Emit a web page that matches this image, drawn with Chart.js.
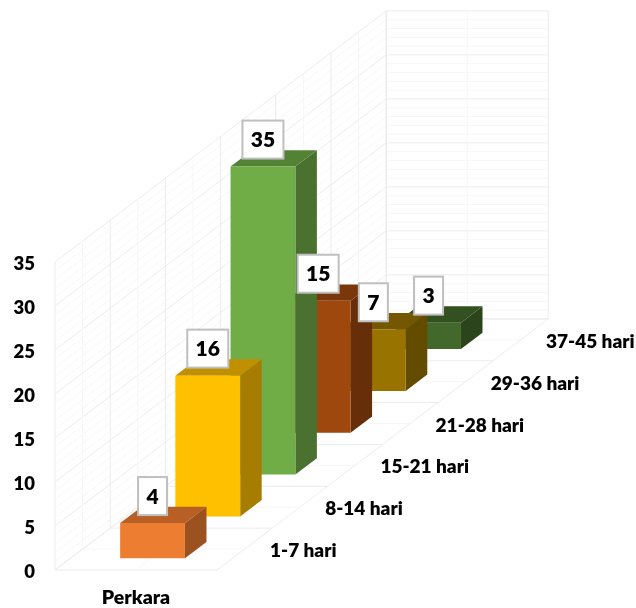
<!DOCTYPE html>
<html>
<head>
<meta charset="utf-8">
<style>
  html, body { margin: 0; background: #fff; }
  canvas { display: block; }
</style>
<script src="https://cdn.jsdelivr.net/npm/chart.js@4"></script>
</head>
<body>
<canvas id="chart" width="636" height="608"></canvas>
<script>
// Data
const categories = ["Perkara"];
const seriesNames = ["1-7 hari", "8-14 hari", "15-21 hari", "21-28 hari", "29-36 hari", "37-45 hari"];
const seriesValues = [4, 16, 35, 15, 7, 3];
const frontColors = ["#ED7D31", "#FFC000", "#70AD47", "#9E480E", "#997300", "#43682B"];
const sideColors = ["#9B5220", "#A67D00", "#4A7130", "#672F09", "#634B00", "#2C441C"];
const topColors = ["#B85F26", "#C09000", "#548235", "#7A370B", "#745700", "#325020"];

// Oblique projection: one series row moves this far right and up
const stepX = 55.2;
const stepY = 41.85;
const barGapX = 0.3;   // space in front of a bar, in rows
const barGapY = 0.28;
const barDepth = 0.39; // bar depth, in rows
const fontName = "Lato, Carlito, sans-serif";

function line(ctx, x1, y1, x2, y2, color) {
    ctx.strokeStyle = color;
    ctx.beginPath();
    ctx.moveTo(x1, y1);
    ctx.lineTo(x2, y2);
    ctx.stroke();
}

function polygon(ctx, points, color) {
    ctx.fillStyle = color;
    ctx.beginPath();
    points.forEach((p, i) => (i ? ctx.lineTo(p[0], p[1]) : ctx.moveTo(p[0], p[1])));
    ctx.closePath();
    ctx.fill();
}

const major = "#ececec";
const minor = "#f7f7f7";

// Walls and floor of the box
function drawWalls(chart) {
    const ctx = chart.ctx;
    const area = chart.chartArea;
    const y = chart.scales.y;
    const rows = seriesNames.length;
    const backX = rows * stepX;
    const backY = rows * stepY;
    ctx.save();
    ctx.lineWidth = 1;

    // value lines along left wall and back wall
    for (let v = y.min; v <= y.max; v++) {
        const py = y.getPixelForValue(v);
        const color = v % 5 === 0 ? major : minor;
        line(ctx, area.left, py, area.left + backX, py - backY, color);
        line(ctx, area.left + backX, py - backY, area.right + backX, py - backY, color);
    }

    // row lines on left wall and floor
    for (let r = 0; r <= rows * 2; r++) {
        const dx = (r / 2) * stepX;
        const dy = (r / 2) * stepY;
        const color = r % 2 === 0 ? major : minor;
        line(ctx, area.left + dx, area.bottom - dy, area.left + dx, area.top - dy, color);
        line(ctx, area.left + dx, area.bottom - dy, area.right + dx, area.bottom - dy, color);
    }

    // lines running front to back on the floor, uprights on the back wall
    [0, 0.5, 1].forEach((f) => {
        const px = area.left + f * (area.right - area.left);
        const color = f === 0.5 ? minor : major;
        line(ctx, px, area.bottom, px + backX, area.bottom - backY, color);
        line(ctx, px + backX, area.bottom - backY, px + backX, area.top - backY, color);
    });
    ctx.restore();
}

const box3d = {
    id: "box3d",
    beforeDatasetsDraw(chart) {
        drawWalls(chart);
    },
    // side and top faces go first, the library then draws the front face shifted back
    beforeDatasetDraw(chart, args) {
        const ctx = chart.ctx;
        const bar = args.meta.data[0];
        const i = args.index;
        const sx = (i + barGapX) * stepX;
        const sy = (i + barGapY) * stepY;
        const dx = barDepth * stepX;
        const dy = barDepth * stepY;
        const left = bar.x - bar.width / 2;
        const right = bar.x + bar.width / 2;
        ctx.save();
        ctx.translate(sx, -sy);
        polygon(ctx, [[right, bar.y], [right + dx, bar.y - dy], [right + dx, bar.base - dy], [right, bar.base]], sideColors[i]);
        polygon(ctx, [[left, bar.y], [left + dx, bar.y - dy], [right + dx, bar.y - dy], [right, bar.y]], topColors[i]);
    },
    afterDatasetDraw(chart) {
        chart.ctx.restore();
    },
    afterDatasetsDraw(chart) {
        const ctx = chart.ctx;
        const area = chart.chartArea;
        ctx.save();
        ctx.textBaseline = "middle";

        // row names along the right edge of the floor
        ctx.font = "800 19px " + fontName;
        ctx.fillStyle = "#000";
        ctx.textAlign = "left";
        seriesNames.forEach((name, i) => {
            ctx.fillText(name, area.right + 53 + i * stepX, area.bottom - 19 - i * stepY);
        });

        // value boxes, back rows first
        ctx.font = "800 21px " + fontName;
        ctx.textAlign = "center";
        for (let i = seriesValues.length - 1; i >= 0; i--) {
            const bar = chart.getDatasetMeta(i).data[0];
            const text = String(seriesValues[i]);
            const w = text.length > 1 ? 41 : 29;
            const h = 38;
            const cx = bar.x + (i + barGapX) * stepX;
            const bottom = bar.y - (i + barGapY) * stepY - 8;
            ctx.fillStyle = "#fff";
            ctx.strokeStyle = "#bfbfbf";
            ctx.lineWidth = 2;
            ctx.fillRect(cx - w / 2, bottom - h, w, h);
            ctx.strokeRect(cx - w / 2, bottom - h, w, h);
            ctx.fillStyle = "#000";
            ctx.fillText(text, cx, bottom - h / 2 + 1);
        }
        ctx.restore();
    },
};

new Chart(document.getElementById("chart"), {
    type: "bar",
    data: {
        labels: categories,
        datasets: seriesNames.map((name, i) => ({
            label: name,
            data: [seriesValues[i]],
            backgroundColor: frontColors[i],
            grouped: false,
            clip: false,
            barPercentage: 0.4,
            categoryPercentage: 1,
        })),
    },
    options: {
        responsive: false,
        animation: false,
        layout: { padding: { top: 262, right: 419, left: 0, bottom: 0 } },
        plugins: { legend: { display: false }, tooltip: { enabled: false } },
        scales: {
            x: {
                grid: { display: false, drawTicks: false },
                border: { display: false },
                ticks: { color: "#000", padding: 16, font: { family: fontName, size: 19.5, weight: "800" } },
                afterFit: (scale) => { scale.height = 38; },
            },
            y: {
                min: 0,
                max: 35,
                grid: { display: false, drawTicks: false },
                border: { display: false },
                ticks: { stepSize: 5, color: "#000", padding: 20, labelOffset: 2, font: { family: fontName, size: 18.5, weight: "800" } },
                afterFit: (scale) => { scale.width = 55; },
            },
        },
    },
    plugins: [box3d],
});
</script>
</body>
</html>
